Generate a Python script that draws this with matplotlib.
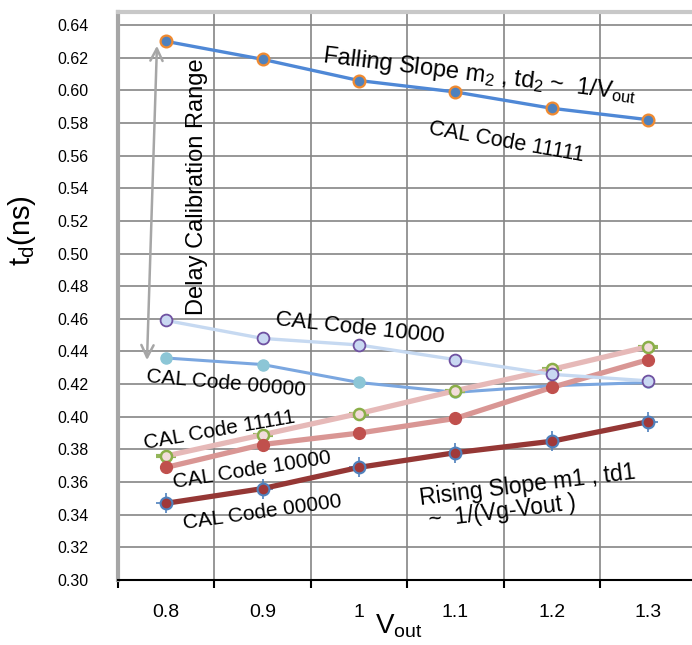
import matplotlib
matplotlib.use('Agg')
import matplotlib.pyplot as plt
import numpy as np

plt.rcParams['font.family'] = ['Liberation Sans', 'DejaVu Sans']
plt.rcParams['mathtext.fontset'] = 'custom'
plt.rcParams['mathtext.rm'] = 'Liberation Sans'
plt.rcParams['mathtext.it'] = 'Liberation Sans:italic'

# Data
vout_labels = ['0.8', '0.9', '1', '1.1', '1.2', '1.3']
fall_11111 = [0.630, 0.619, 0.606, 0.599, 0.589, 0.582]
fall_10000 = [0.459, 0.448, 0.444, 0.435, 0.426, 0.422]
fall_00000 = [0.436, 0.432, 0.421, 0.415, 0.419, 0.421]
rise_11111 = [0.376, 0.389, 0.402, 0.416, 0.429, 0.443]
rise_10000 = [0.369, 0.383, 0.390, 0.399, 0.418, 0.435]
rise_00000 = [0.347, 0.356, 0.369, 0.378, 0.385, 0.397]
yticks = np.arange(0.30, 0.6401, 0.02)

#~~~~~~~~~~~~~~~~~~~~~~~~~~~~~~~~~~~~~~~~~~~~~~#
fig = plt.figure(figsize=(6.92, 6.45), dpi=100)
ax = fig.add_axes([0.1705, 0.1008, 0.836, 0.8806])

x = np.arange(len(vout_labels))

# falling curves
ax.plot(x, fall_00000, '-o', color='#7ba7e0', lw=2.2, ms=8,
        mfc='#8cc6d6', mec='#8cc6d6', zorder=3)
# rising curves
ax.plot(x, rise_11111, '_', color='#93b65a', ms=14, mew=3, zorder=3)
ax.plot(x, rise_11111, '-o', color='#e6b9b8', lw=3.8, ms=8,
        mfc='#f2dcdb', mec='#8aae48', mew=1.8, zorder=4)
ax.plot(x, rise_10000, '-o', color='#d99694', lw=3.8, ms=8.5,
        mfc='#c0504d', mec='#c0504d', zorder=4)
ax.plot(x, rise_00000, '+', color='#4f81bd', ms=15, mew=1.2, zorder=4)
ax.plot(x, rise_00000, '-o', color='#953735', lw=3.8, ms=8.5,
        mfc='#a0393a', mec='#4f81bd', mew=1.5, zorder=5)
ax.plot(x, fall_10000, '-o', color='#c6d9f1', lw=2.4, ms=8.5,
        mfc='#c9d8f2', mec='#6f51a1', mew=1.3, zorder=5)
ax.plot(x, fall_11111, '-o', color='#4f88d6', lw=2.4, ms=8.5,
        mfc='#4f81bd', mec='#f08a30', mew=1.6, zorder=5)

ax.set_xlim(-0.5, 5.5)
ax.set_ylim(0.30, 0.648)
ax.set_yticks(yticks)
ax.set_yticklabels(['%.2f' % v for v in yticks], fontsize=11.5)
ax.set_xticks(np.arange(-0.5, 5.6, 1.0))
ax.set_xticklabels([])
ax.set_xticks(x, minor=True)
ax.set_xticklabels(vout_labels, minor=True, fontsize=14)
ax.tick_params(axis='x', which='major', direction='out', length=6, width=1.5, color='black')
ax.tick_params(axis='x', which='minor', length=0, pad=17)
ax.tick_params(axis='y', length=0, pad=21)

ax.grid(True, which='major', color='#858585', lw=1.2)
ax.set_axisbelow(True)
ax.spines['left'].set_color('#a6a6a6')
ax.spines['left'].set_linewidth(3)
ax.spines['top'].set_color('#c8c8c8')
ax.spines['top'].set_linewidth(3)
ax.spines['right'].set_visible(False)
ax.spines['bottom'].set_color('black')
ax.spines['bottom'].set_linewidth(1.5)

ax.set_ylabel(r't$_{\mathregular{d}}$(ns)', fontsize=21)
ax.yaxis.set_label_coords(-0.138, 0.616)
ax.set_xlabel(r'V$_{\mathregular{out}}$', fontsize=20)
ax.xaxis.set_label_coords(0.485, -0.058)

# annotations
ax.annotate('', xy=(-0.095, 0.629), xytext=(-0.2, 0.433),
            arrowprops=dict(arrowstyle='<->', color='#a6a6a6', lw=1.8,
                            mutation_scale=22))
ax.text(0.32, 0.5407, 'Delay Calibration Range', rotation=90, fontsize=17,
        ha='center', va='center')
ax.text(3.25, 0.609, r'Falling Slope m$_{\mathregular{2}}$ , td$_{\mathregular{2}}$ ~  1/V$_{\mathregular{out}}$',
        rotation=-7, fontsize=17, ha='center', va='center', rotation_mode='anchor')
ax.text(3.53, 0.568, 'CAL Code 11111', rotation=-10, fontsize=15.5,
        ha='center', va='center', rotation_mode='anchor')
ax.text(2.01, 0.4543, 'CAL Code 10000', rotation=-6, fontsize=16,
        ha='center', va='center', rotation_mode='anchor')
ax.text(0.62, 0.4206, 'CAL Code 00000', rotation=-5, fontsize=15,
        ha='center', va='center', rotation_mode='anchor')
ax.text(0.548, 0.3918, 'CAL Code 11111', rotation=10, fontsize=15,
        ha='center', va='center', rotation_mode='anchor')
ax.text(0.89, 0.3673, 'CAL Code 10000', rotation=9, fontsize=15,
        ha='center', va='center', rotation_mode='anchor')
ax.text(0.994, 0.3416, 'CAL Code 00000', rotation=8, fontsize=15,
        ha='center', va='center', rotation_mode='anchor')
ax.text(2.633, 0.346, 'Rising Slope m1 , td1', rotation=7,
        fontsize=16.5, ha='left', va='baseline', rotation_mode='anchor')
ax.text(2.664, 0.3318, ' ~  1/(Vg-Vout )', rotation=7,
        fontsize=16.5, ha='left', va='baseline', rotation_mode='anchor')

fig.savefig('out.png', dpi=100)
